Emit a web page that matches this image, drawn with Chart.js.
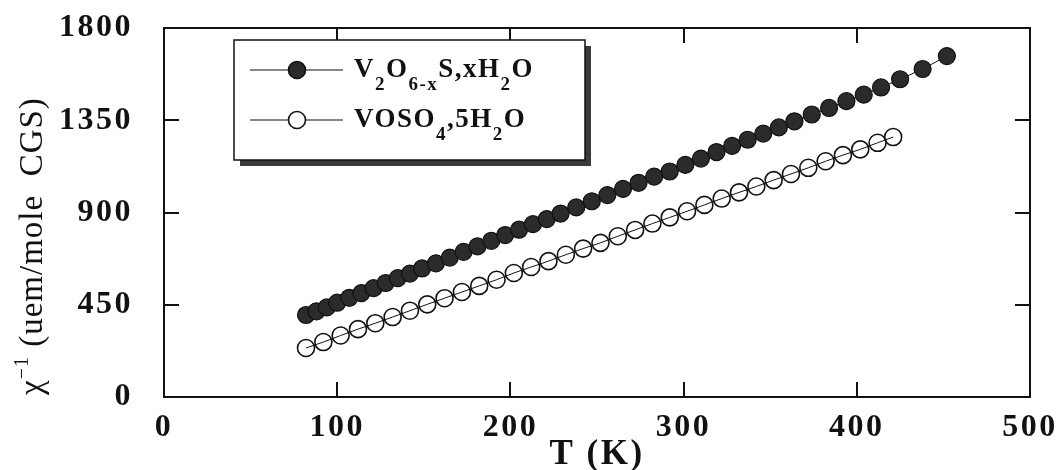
<!DOCTYPE html>
<html><head><meta charset="utf-8">
<script src="https://cdn.jsdelivr.net/npm/chart.js@4.4.1/dist/chart.umd.min.js"></script>
<style>html,body{margin:0;background:#fff}#wrap{width:1063px;height:470px}</style>
</head><body><div id="wrap"><canvas id="c"></canvas></div>
<script>
// inverse susceptibility vs temperature
const tempFilled=[82,88,94,100,107,114,121,128,135,142,149,157,165,173,181,189,197,205,213,221,229,238,247,256,265,274,283,292,301,310,319,328,337,346,355,364,374,384,394,404,414,425,438,452];
const chiFilled=[400,418,437,460,484,507,531,556,580,602,627,652,680,708,735,762,790,816,843,868,895,925,955,985,1015,1045,1075,1100,1132,1163,1195,1225,1255,1285,1315,1345,1378,1410,1443,1475,1510,1550,1600,1663];
const tempOpen=[82,92,102,112,122,132,142,152,162,172,182,192,202,212,222,232,242,252,262,272,282,292,302,312,322,332,342,352,362,372,382,392,402,412,421];
const chiOpen=[239,268,300,331,360,390,421,452,482,512,542,572,605,634,663,694,724,752,784,815,846,876,906,937,968,998,1027,1058,1088,1118,1150,1180,1208,1240,1268];
const xTicks=[0,100,200,300,400,500];
const yTicks=[0,450,900,1350,1800];
// text runs: [text, 0 normal | 1 subscript | 2 superscript]
const labelFilled=[['V',0],['2',1],['O',0],['6-x',1],['S,xH',0],['2',1],['O',0]];
const labelOpen=[['VOSO',0],['4',1],[',5H',0],['2',1],['O',0]];
const yTitle=[['χ',0],['−1',2],[' (uem/mole  CGS)',0]];

const SERIF="'Liberation Serif', serif";
const INK='#111';

const toXY=(xs,ys)=>xs.map((x,i)=>({x,y:ys[i]}));

const spacing={id:'spacing',beforeDraw(ch){ch.ctx.letterSpacing='2.5px';}};

// boxed frame with inward ticks on all four sides
const frame={id:'frame',afterDraw(ch){
  const {ctx,chartArea:a,scales:{x,y}}=ch;
  ctx.save();ctx.letterSpacing='0px';
  ctx.strokeStyle=INK;ctx.lineWidth=2;
  ctx.strokeRect(a.left,a.top,a.right-a.left,a.bottom-a.top);
  const L=15;
  ctx.beginPath();
  xTicks.slice(1,-1).forEach(v=>{
    const px=Math.round(x.getPixelForValue(v));
    ctx.moveTo(px,a.bottom);ctx.lineTo(px,a.bottom-L);
    ctx.moveTo(px,a.top);ctx.lineTo(px,a.top+L);
  });
  yTicks.slice(1,-1).forEach(v=>{
    const py=Math.round(y.getPixelForValue(v));
    ctx.moveTo(a.left,py);ctx.lineTo(a.left+L,py);
    ctx.moveTo(a.right,py);ctx.lineTo(a.right-L,py);
  });
  ctx.stroke();
  ctx.restore();
}};

// rotated y title with superscript exponent
const yTitleDraw={id:'yTitleDraw',afterDraw(ch){
  const ctx=ch.ctx;ctx.save();
  ctx.translate(42,ch.chartArea.bottom-2);ctx.rotate(-Math.PI/2);
  ctx.fillStyle=INK;ctx.textBaseline='alphabetic';ctx.textAlign='left';ctx.letterSpacing='1px';
  let tx=0;
  yTitle.forEach(([t,k])=>{
    ctx.font=k?`normal 20px ${SERIF}`:`normal 33px ${SERIF}`;
    ctx.fillText(t,tx,k===2?-14:0);
    tx+=ctx.measureText(t).width;
  });
  ctx.restore();
}};

// legend box with drop shadow and subscripted formulas
const legendBox={id:'legendBox',afterDraw(ch){
  const ctx=ch.ctx;ctx.save();
  const bx=234,by=40,bw=351,bh=120,sh=6;
  ctx.fillStyle='#3a3a3a';ctx.fillRect(bx+sh,by+sh,bw,bh);
  ctx.fillStyle='#fff';ctx.fillRect(bx,by,bw,bh);
  ctx.strokeStyle=INK;ctx.lineWidth=1.5;ctx.strokeRect(bx,by,bw,bh);
  const rows=[{lbl:labelFilled,y:70,ds:ch.data.datasets[0]},{lbl:labelOpen,y:120,ds:ch.data.datasets[1]}];
  rows.forEach(r=>{
    ctx.strokeStyle=INK;ctx.lineWidth=1.2;
    ctx.beginPath();ctx.moveTo(250,r.y);ctx.lineTo(343,r.y);ctx.stroke();
    ctx.beginPath();ctx.arc(297,r.y,8.5,0,Math.PI*2);
    if(r.ds.pointBackgroundColor!=='rgba(0,0,0,0)'){ctx.fillStyle=r.ds.pointBackgroundColor;ctx.fill();}
    else{ctx.fillStyle='#fff';ctx.fill();}
    ctx.lineWidth=1.6;ctx.stroke();
    let tx=354;const base=r.y+7;
    ctx.fillStyle=INK;ctx.textBaseline='alphabetic';ctx.textAlign='left';ctx.letterSpacing='1.5px';
    r.lbl.forEach(([t,sub])=>{
      ctx.font=sub?`bold 19px ${SERIF}`:`bold 27px ${SERIF}`;
      ctx.fillText(t,tx,sub?base+13:base);
      tx+=ctx.measureText(t).width;
    });
  });
  ctx.restore();
}};

new Chart(document.getElementById('c'),{
  type:'scatter',
  data:{datasets:[
    {label:'V2O6-xS,xH2O',data:toXY(tempFilled,chiFilled),showLine:true,borderColor:INK,borderWidth:1,
     pointRadius:8.5,pointBackgroundColor:'#2b2b2b',pointBorderColor:'#111',pointBorderWidth:1.2},
    {label:'VOSO4,5H2O',data:toXY(tempOpen,chiOpen),showLine:true,borderColor:INK,borderWidth:1,
     pointRadius:8.5,pointBackgroundColor:'rgba(0,0,0,0)',pointBorderColor:'#111',pointBorderWidth:1.6}
  ]},
  options:{responsive:true,maintainAspectRatio:false,animation:false,
    layout:{padding:{top:28,right:33,bottom:0,left:0}},
    plugins:{legend:{display:false},tooltip:{enabled:false}},
    scales:{
      x:{type:'linear',min:0,max:500,
        afterBuildTicks:s=>{s.ticks=xTicks.map(v=>({value:v}));},
        afterFit:s=>{s.height=73;s.paddingLeft=0;s.paddingRight=0;},
        grid:{display:false,drawTicks:false},border:{display:false},
        ticks:{color:INK,padding:12,maxRotation:0,callback:v=>String(v),font:{family:SERIF,size:32,weight:'bold'}},
        title:{display:true,text:'T (K)',color:INK,padding:{top:0,bottom:1},font:{family:SERIF,size:35,weight:'bold',lineHeight:0.8}}},
      y:{min:0,max:1800,
        afterBuildTicks:s=>{s.ticks=yTicks.map(v=>({value:v}));},
        afterFit:s=>{s.width=164;s.paddingTop=0;s.paddingBottom=0;},
        grid:{display:false,drawTicks:false},border:{display:false},
        ticks:{color:INK,padding:31,callback:v=>String(v),font:{family:SERIF,size:32,weight:'bold'}},
        title:{display:false}}
    }},
  plugins:[spacing,frame,yTitleDraw,legendBox]
});
</script></body></html>
